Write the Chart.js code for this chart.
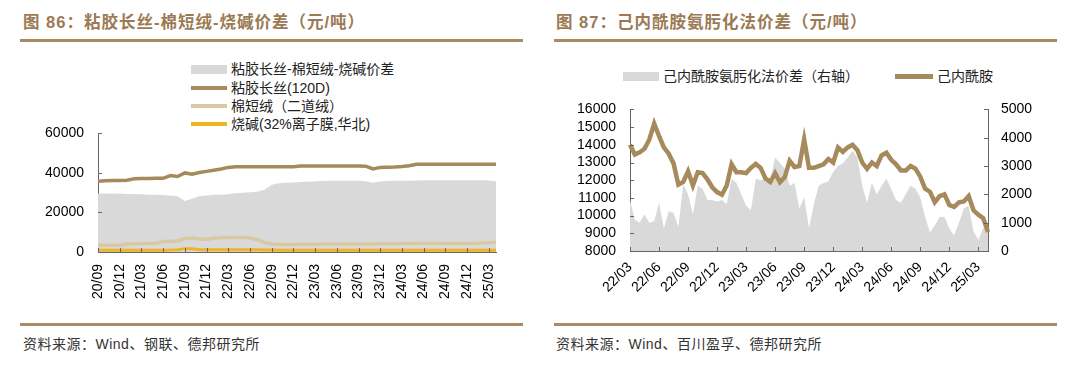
<!DOCTYPE html>
<html lang="zh-CN">
<head>
<meta charset="UTF-8">
<title>粘胶长丝与己内酰胺价差</title>
<script src="https://cdn.jsdelivr.net/npm/chart.js"></script>
<style>
    body { margin:0; background:#fff; width:1080px; height:366px; position:relative; overflow:hidden;
           font-family:"Liberation Sans","Noto Sans CJK SC",sans-serif; }
    .title { position:absolute; top:11px; line-height:22px; font-size:16.5px; font-weight:bold; color:#9b7a53; white-space:nowrap; letter-spacing:1px; }
    .rule { position:absolute; height:3px; background:#a88a66; }
    .src { position:absolute; top:334px; line-height:20px; font-size:14px; color:#333; white-space:nowrap; letter-spacing:0.5px; }
    .lg { position:absolute; height:18px; line-height:18px; font-size:14px; color:#222; white-space:nowrap; display:flex; align-items:center; }
    .sw { display:inline-block; width:36px; margin-right:4px; }
    canvas { position:absolute; }
</style>
</head>
<body>
    <div class="title" style="left:23px;">图 86：粘胶长丝-棉短绒-烧碱价差（元/吨）</div>
    <div class="rule" style="left:20px; width:503px; top:39px;"></div>
    <div class="title" style="left:556px;">图 87：己内酰胺氨肟化法价差（元/吨）</div>
    <div class="rule" style="left:554px; width:503px; top:39px;"></div>

    <!-- 左图图例 -->
    <div class="lg" style="left:191px; top:60px;"><span class="sw" style="height:9px; background:#d9d9d9;"></span>粘胶长丝-棉短绒-烧碱价差</div>
    <div class="lg" style="left:191px; top:79px;"><span class="sw" style="height:4px; background:#a68a5c;"></span>粘胶长丝(120D)</div>
    <div class="lg" style="left:191px; top:97px;"><span class="sw" style="height:4px; background:#d8c9a2;"></span>棉短绒（二道绒）</div>
    <div class="lg" style="left:191px; top:115px;"><span class="sw" style="height:4px; background:#f0b323;"></span>烧碱(32%离子膜,华北)</div>

    <!-- 右图图例 -->
    <div class="lg" style="left:623px; top:67px;"><span class="sw" style="height:9px; background:#d9d9d9;"></span>己内酰胺氨肟化法价差（右轴）</div>
    <div class="lg" style="left:895px; top:67px;"><span class="sw" style="width:38px; height:5px; background:#a68a5c;"></span>己内酰胺</div>

    <canvas id="chart1" width="540" height="199" style="left:0; top:111px;"></canvas>
    <canvas id="chart2" width="540" height="223" style="left:540px; top:87px;"></canvas>

    <div class="rule" style="left:20px; width:503px; top:323px;"></div>
    <div class="src" style="left:23px;">资料来源：Wind、钢联、德邦研究所</div>
    <div class="rule" style="left:554px; width:503px; top:323px;"></div>
    <div class="src" style="left:556px;">资料来源：Wind、百川盈孚、德邦研究所</div>

<script>
    // ---- 图86 数据（月度，20/09 - 25/04）----
    var leftTickLabels = ['20/09','20/12','21/03','21/06','21/09','21/12','22/03','22/06','22/09',
                          '22/12','23/03','23/06','23/09','23/12','24/03','24/06','24/09','24/12','25/03'];
    var viscose = [35800,36000,36200,36200,36300, 37000,37200,37200,37300,37300,
                   38700,38200,40000,39400,40200, 40800,41400,42000,42800,43100,
                   43100,43100,43100,43100,43100, 43100,43100,43100,43500,43500,
                   43500,43500,43500,43500,43500, 43500,43500,43400,42000,42800,
                   42900,43000,43200,43600,44400, 44400,44400,44400,44400,44400,
                   44400,44400,44400,44400,44400, 44400];
    var linter = [3400,3400,3400,3400,4000, 4200,4300,4300,4400,5300,
                  5500,5600,6800,7100,6600, 6500,7000,7200,7300,7300,
                  7300,7200,6200,4800,4100, 3800,3800,3800,3900,3900,
                  3900,4000,4000,4000,4000, 4100,4100,4100,4100,4200,
                  4200,4200,4300,4300,4300, 4400,4400,4300,4300,4300,
                  4300,4300,4400,4500,4700, 4900];
    var soda = [850,850,850,850,850, 850,850,850,850,900,
                950,1100,1700,1600,1200, 1100,1100,1100,1100,1100,
                1100,1100,1100,1000,950, 900,900,900,850,850,
                850,850,850,850,850, 850,850,850,900,900,
                900,900,900,900,900, 900,900,900,900,900,
                900,900,900,900,900, 900];
    var spreadLeft = [29600,29600,29500,29600,29400, 29300,29200,29000,29000,28800,
                      28600,28200,25800,27000,28200, 28600,28900,29000,29200,29700,
                      30000,30200,30500,31500,34000, 34800,35000,35100,35400,35500,
                      35700,35900,36000,36000,36000, 36000,36000,35800,35000,35700,
                      35900,36000,36000,36100,36200, 36300,36300,36300,36300,36300,
                      36300,36300,36300,36300,36200, 35800];

    // ---- 图87 数据（半月，22/03 - 25/04）----
    var rightTickLabels = ['22/03','22/06','22/09','22/12','23/03','23/06','23/09',
                           '23/12','24/03','24/06','24/09','24/12','25/03'];
    var caprolactam = [14000,13450,13570,13780,14300,15200,14500,13850,13500,12950,
                       11750,11900,12500,11700,12450,12400,12050,11600,11330,11180,
                       11700,12900,12450,12450,12400,12700,12920,12700,12100,11900,
                       12400,11890,12170,13100,12750,12800,14300,12700,12700,12800,
                       12900,13200,13000,13850,13600,13850,14000,13700,13000,12640,
                       13000,12800,13400,13550,13150,12900,12550,12550,12800,12650,
                       12200,11520,11350,10760,11100,11200,10600,10490,10750,10800,
                       11100,10300,10050,9860,9080];
    var spreadRight = [1800,1100,1000,1300,1000,1050,1700,800,1400,1350,
                       850,2350,2000,1300,2300,2200,1800,1800,1750,1800,
                       1650,2550,2400,2000,1600,1450,2550,2500,2550,2500,
                       3300,3100,2900,2300,2400,1500,1900,800,1650,2300,
                       2400,2450,2800,3000,3100,3300,3550,3300,2300,1700,
                       2400,2000,2300,2550,2200,1800,1700,2000,2300,2200,
                       1900,1200,650,900,1200,1200,800,550,1000,1500,
                       1600,700,400,800,1000];

    var axisColor = '#666666';
    var tickFont = { family: 'Liberation Sans', size: 14 };

    // 月份标签
    function monthList(y, m, n) {
        var out = [];
        for (var i = 0; i < n; i++) {
            var mm = m + i, yy = y + Math.floor((mm - 1) / 12);
            mm = ((mm - 1) % 12) + 1;
            out.push(String(yy).padStart(2, '0') + '/' + String(mm).padStart(2, '0'));
        }
        return out;
    }
    var leftMonths = monthList(20, 9, viscose.length);
    var rightCats = [];
    monthList(22, 3, 38).forEach(function (m) { rightCats.push(m, m); });
    rightCats = rightCats.slice(0, caprolactam.length);

    // 不要千分位
    function plainNum(v) { return String(v); }

    // 刻度线画在坐标轴内侧
    var innerTicks = {
        id: 'innerTicks',
        afterDatasetsDraw: function (chart) {
            var ctx = chart.ctx;
            ctx.save();
            ctx.strokeStyle = axisColor;
            ctx.lineWidth = 1;
            Object.values(chart.scales).forEach(function (s) {
                s.ticks.forEach(function (t, i) {
                    if (t.label === null || t.label === undefined) return;
                    var p = Math.round(s.getPixelForTick(i)) + 0.5;
                    ctx.beginPath();
                    if (s.axis === 'x') { ctx.moveTo(p, s.top); ctx.lineTo(p, s.top - 4); }
                    else if (s.position === 'left') { ctx.moveTo(s.right, p); ctx.lineTo(s.right + 4, p); }
                    else { ctx.moveTo(s.left, p); ctx.lineTo(s.left - 4, p); }
                    ctx.stroke();
                });
            });
            ctx.restore();
        }
    };

    function lineSet(label, data, color, width, order, axis) {
        return { label: label, data: data, borderColor: color, borderWidth: width,
                 pointRadius: 0, fill: false, tension: 0, order: order, yAxisID: axis || 'y' };
    }
    function areaSet(label, data, order, axis) {
        return { label: label, data: data, backgroundColor: '#d9d9d9', borderColor: 'rgba(0,0,0,0)',
                 borderWidth: 0, pointRadius: 0, fill: 'origin', tension: 0, order: order, yAxisID: axis || 'y' };
    }

    // ---- 图86 ----
    new Chart(document.getElementById('chart1'), {
        type: 'line',
        data: {
            labels: leftMonths,
            datasets: [
                areaSet('粘胶长丝-棉短绒-烧碱价差', spreadLeft, 4),
                lineSet('粘胶长丝(120D)', viscose, '#a68a5c', 3.5, 1),
                lineSet('棉短绒（二道绒）', linter, '#d8c9a2', 3.5, 2),
                lineSet('烧碱(32%离子膜,华北)', soda, '#f0b323', 3, 3)
            ]
        },
        options: {
            responsive: false,
            animation: false,
            layout: { padding: { top: 0, right: 44, bottom: 0, left: 0 } },
            plugins: { legend: { display: false }, tooltip: { enabled: false } },
            scales: {
                x: {
                    grid: { display: false, drawTicks: false },
                    border: { display: true, color: axisColor },
                    ticks: {
                        autoSkip: false, minRotation: 90, maxRotation: 90, padding: 12,
                        color: '#000', font: tickFont,
                        callback: function (v, i) {
                            var m = leftMonths[i];
                            return leftTickLabels.indexOf(m) >= 0 ? m : null;
                        }
                    },
                    afterFit: function (s) { s.height = 58; }
                },
                y: {
                    min: 0, max: 60000,
                    grid: { display: false, drawTicks: false },
                    border: { display: true, color: axisColor },
                    ticks: { stepSize: 20000, autoSkip: false, padding: 14, color: '#000', font: tickFont, callback: plainNum },
                    afterFit: function (s) { s.width = 98; }
                }
            }
        },
        plugins: [innerTicks]
    });

    // ---- 图87 ----
    new Chart(document.getElementById('chart2'), {
        type: 'line',
        data: {
            labels: rightCats,
            datasets: [
                lineSet('己内酰胺', caprolactam, '#a68a5c', 4.5, 1, 'y'),
                areaSet('己内酰胺氨肟化法价差（右轴）', spreadRight, 2, 'y1')
            ]
        },
        options: {
            responsive: false,
            animation: false,
            layout: { padding: { top: 0, right: 32, bottom: 0, left: 0 } },
            plugins: { legend: { display: false }, tooltip: { enabled: false } },
            scales: {
                x: {
                    grid: { display: false, drawTicks: false },
                    border: { display: true, color: axisColor },
                    ticks: {
                        autoSkip: false, minRotation: 45, maxRotation: 45, padding: 8,
                        color: '#000', font: tickFont,
                        callback: function (v, i) {
                            var m = rightCats[i];
                            return (i % 2 === 0 && rightTickLabels.indexOf(m) >= 0) ? m : null;
                        }
                    },
                    afterFit: function (s) { s.height = 59; }
                },
                y: {
                    position: 'left', min: 8000, max: 16000,
                    grid: { display: false, drawTicks: false },
                    border: { display: true, color: axisColor },
                    ticks: { stepSize: 1000, autoSkip: false, padding: 14, color: '#000', font: tickFont, callback: plainNum },
                    afterFit: function (s) { s.width = 90; }
                },
                y1: {
                    position: 'right', min: 0, max: 5000,
                    grid: { display: false, drawTicks: false },
                    border: { display: true, color: axisColor },
                    ticks: { stepSize: 1000, autoSkip: false, padding: 13, color: '#000', font: tickFont, callback: plainNum },
                    afterFit: function (s) { s.width = 60; }
                }
            }
        },
        plugins: [innerTicks]
    });
</script>
</body>
</html>
